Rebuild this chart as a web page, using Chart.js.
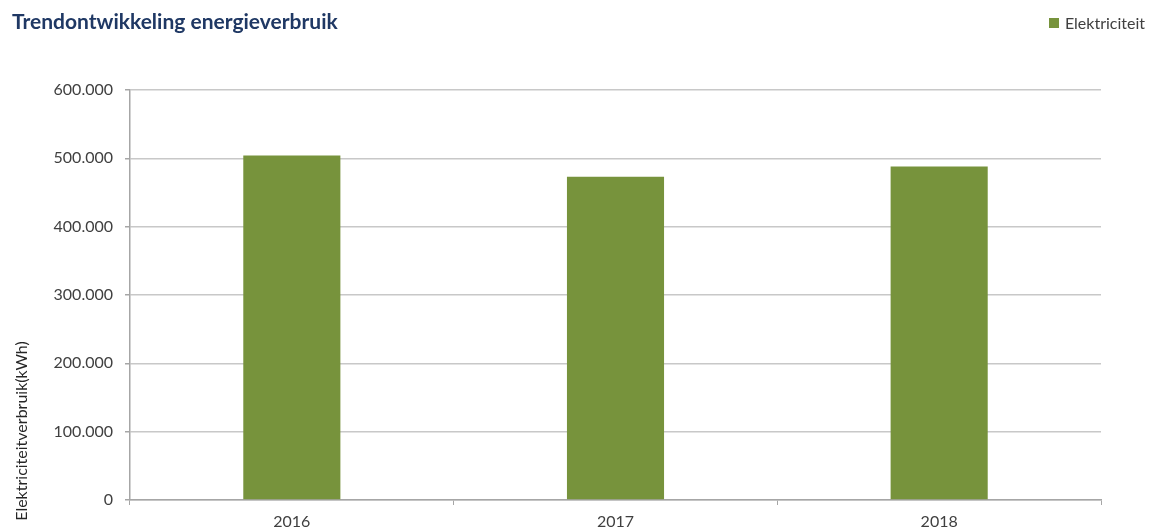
<!DOCTYPE html>
<html lang="nl">
<head>
<meta charset="utf-8">
<title>Trendontwikkeling energieverbruik</title>
<script src="https://cdn.jsdelivr.net/npm/chart.js@4.4.1/dist/chart.umd.min.js"></script>
<style>
    html, body { margin: 0; padding: 0; background: #fff; }
    .wrap { position: relative; width: 1149px; height: 532px; font-family: Lato, "Open Sans", sans-serif; }
    .chart-title { position: absolute; left: 12px; top: 8px; font-size: 21px; font-weight: bold; color: #1f3864; white-space: nowrap; }
    .chart-legend { position: absolute; right: 4px; top: 13px; display: flex; align-items: center; font-size: 16px; color: #404040; }
    .chart-legend .swatch { width: 10px; height: 10px; margin-right: 6px; }
    canvas { position: absolute; left: 0; top: 0; }
</style>
</head>
<body>
<div class="wrap">
    <canvas id="energyChart" width="1149" height="532"></canvas>
    <div class="chart-title">Trendontwikkeling energieverbruik</div>
    <div class="chart-legend" id="legend"></div>
</div>
<script>
// Jaren en verbruik (kWh)
const years = ['2016', '2017', '2018'];
const elektriciteit = [504000, 473000, 488000];
const seriesLabel = 'Elektriciteit';
const yAxisLabel = 'Elektriciteitverbruik(kWh)';
const yTicks = [0, 100000, 200000, 300000, 400000, 500000, 600000];

const barColor = '#77933c';
const axisColor = '#a6a6a6';
const gridColor = '#c8c8c8';
const textColor = '#404040';

// Dutch thousands separator
const fmt = v => String(v).replace(/\B(?=(\d{3})+(?!\d))/g, '.');

// Legend built from the dataset
const legend = document.getElementById('legend');
legend.innerHTML = '<span class="swatch" style="background:' + barColor + '"></span>' + seriesLabel;

// Rotated y-axis title, sits lower than the plot centre
const yTitlePlugin = {
    id: 'yTitle',
    afterDraw(chart) {
        const ctx = chart.ctx;
        ctx.save();
        ctx.translate(22, 431);
        ctx.rotate(-Math.PI / 2);
        ctx.font = '16px Lato, "Open Sans", sans-serif';
        ctx.fillStyle = '#262626';
        ctx.textAlign = 'center';
        ctx.textBaseline = 'middle';
        ctx.fillText(yAxisLabel, 0, 0);
        ctx.restore();
    }
};

new Chart(document.getElementById('energyChart'), {
    type: 'bar',
    data: {
        labels: years,
        datasets: [{
            label: seriesLabel,
            data: elektriciteit,
            backgroundColor: barColor,
            barPercentage: 0.3,
            categoryPercentage: 1
        }]
    },
    options: {
        responsive: false,
        animation: false,
        layout: { padding: { top: 90, right: 48, bottom: 0, left: 0 } },
        plugins: {
            legend: { display: false },
            title: { display: false },
            tooltip: { enabled: false }
        },
        scales: {
            x: {
                afterFit: scale => { scale.height = 32; },
                border: { color: axisColor, width: 1.5 },
                grid: { offset: true, drawOnChartArea: false, drawTicks: true, tickLength: 5, color: axisColor },
                ticks: { color: textColor, padding: 7, font: { family: 'Lato', size: 16 } }
            },
            y: {
                min: 0,
                max: 600000,
                afterFit: scale => { scale.width = 130; },
                afterBuildTicks: scale => { scale.ticks = yTicks.map(v => ({ value: v })); },
                border: { color: axisColor, width: 1.5 },
                grid: { color: gridColor, lineWidth: 1.5, tickLength: 5, tickColor: axisColor },
                ticks: { color: textColor, padding: 12, font: { family: 'Lato', size: 16 }, callback: v => fmt(v) }
            }
        }
    },
    plugins: [yTitlePlugin]
});
</script>
</body>
</html>
